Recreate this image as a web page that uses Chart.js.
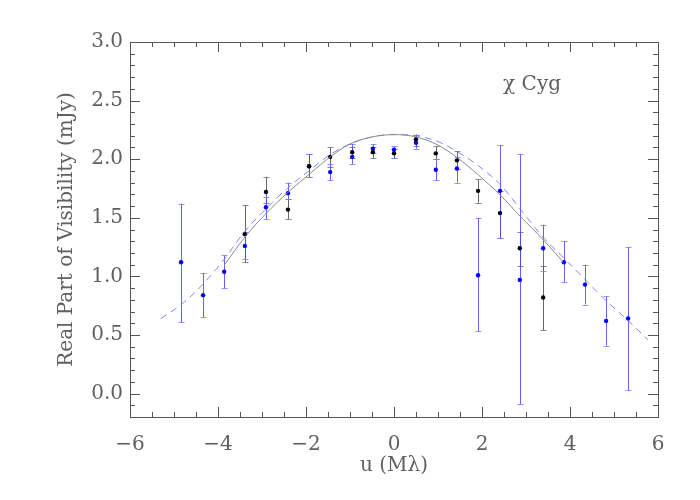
<!DOCTYPE html>
<html>
<head>
<meta charset="utf-8">
<script src="https://cdn.jsdelivr.net/npm/chart.js@4/dist/chart.umd.min.js"></script>
<style>
  html, body { margin: 0; padding: 0; background: #fff; }
  canvas { display: block; }
</style>
</head>
<body>
<canvas id="vis" width="700" height="500"></canvas>
<script>
// blue data set (with its error bars)
const uBlue  = [-4.84, -4.34, -3.86, -3.39, -2.91, -2.41, -1.93, -1.45, -0.95, -0.48, 0.00, 0.50, 0.95, 1.43, 1.91, 2.41, 2.86, 3.39, 3.86, 4.34, 4.82, 5.32];
const vBlue  = [1.12, 0.84, 1.04, 1.26, 1.59, 1.71, 1.94, 1.89, 2.02, 2.09, 2.08, 2.14, 1.91, 1.92, 1.01, 1.73, 0.97, 1.24, 1.12, 0.93, 0.62, 0.64];
const loBlue = [0.61, 0.65, 0.90, 1.15, 1.49, 1.66, 1.85, 1.82, 1.96, 2.05, 2.01, 2.09, 1.82, 1.80, 0.53, 1.33, -0.09, 1.05, 0.95, 0.76, 0.41, 0.03];
const hiBlue = [1.62, 1.03, 1.18, 1.38, 1.68, 1.80, 2.04, 1.96, 2.13, 2.13, 2.11, 2.21, 2.00, 2.02, 1.50, 2.12, 2.04, 1.44, 1.30, 1.10, 0.83, 1.25];

// black data set
const uBlack  = [-3.39, -2.91, -2.41, -1.93, -1.45, -0.95, -0.48, 0.00, 0.50, 0.95, 1.43, 1.91, 2.41, 2.86, 3.39];
const vBlack  = [1.36, 1.72, 1.57, 1.94, 2.02, 2.06, 2.06, 2.05, 2.17, 2.05, 1.99, 1.73, 1.54, 1.24, 0.82];
const loBlack = [1.12, 1.63, 1.49, 1.85, 1.93, 2.01, 2.01, 2.01, 2.11, 2.00, 1.92, 1.63, 1.33, 1.09, 0.54];
const hiBlack = [1.61, 1.85, 1.66, 2.04, 2.10, 2.10, 2.10, 2.09, 2.21, 2.11, 2.07, 1.83, 1.73, 1.38, 1.09];

// model curves
const uSolid = [-3.85, -3.40, -2.90, -2.40, -1.90, -1.45, -1.00, -0.50, 0.00, 0.50, 1.00, 1.45, 1.90, 2.40, 2.90, 3.40, 3.85];
const vSolid = [1.10, 1.33, 1.54, 1.72, 1.88, 2.02, 2.13, 2.19, 2.21, 2.19, 2.12, 2.01, 1.87, 1.70, 1.50, 1.31, 1.12];
const uDash  = [-5.30, -4.80, -4.35, -3.85, -3.40, -2.90, -2.40, -1.90, -1.45, -1.00, -0.50, 0.00, 0.50, 1.00, 1.50, 2.00, 2.40, 2.90, 3.35, 3.85, 4.35, 4.80, 5.30, 5.77];
const vDash  = [0.64, 0.77, 0.93, 1.15, 1.38, 1.58, 1.76, 1.91, 2.04, 2.13, 2.19, 2.21, 2.20, 2.15, 2.05, 1.92, 1.79, 1.56, 1.35, 1.16, 0.97, 0.80, 0.63, 0.46];

const xTicks = [-6, -4, -2, 0, 2, 4, 6];
const yTicks = [0.0, 0.5, 1.0, 1.5, 2.0, 2.5, 3.0];

const FONT = '"DejaVu Serif", "Liberation Serif", serif';
const INK = '#555';
const TXT = '#606060';

function pts(xs, ys) {
    return xs.map((x, i) => ({ x: x, y: ys[i] }));
}

// error bars drawn under the points
const errorBars = {
    id: 'errorBars',
    beforeDatasetsDraw(chart) {
        const ctx = chart.ctx;
        const xs = chart.scales.x, ys = chart.scales.y;
        const sets = [
            { u: uBlack, lo: loBlack, hi: hiBlack, col: '#666', cap: '#888' },
            { u: uBlue, lo: loBlue, hi: hiBlue, col: 'rgba(70,70,255,0.85)', cap: 'rgba(120,120,255,0.8)' }
        ];
        ctx.save();
        ctx.lineWidth = 1;
        sets.forEach(s => {
            s.u.forEach((u, i) => {
                const px = Math.round(xs.getPixelForValue(u)) + 0.5;
                const y1 = ys.getPixelForValue(s.lo[i]);
                const y2 = ys.getPixelForValue(s.hi[i]);
                ctx.strokeStyle = s.col;
                ctx.beginPath();
                ctx.moveTo(px, y1);
                ctx.lineTo(px, y2);
                ctx.stroke();
                ctx.strokeStyle = s.cap;
                ctx.beginPath();
                ctx.moveTo(px - 3, Math.round(y1) + 0.5);
                ctx.lineTo(px + 3, Math.round(y1) + 0.5);
                ctx.moveTo(px - 3, Math.round(y2) + 0.5);
                ctx.lineTo(px + 3, Math.round(y2) + 0.5);
                ctx.stroke();
            });
        });
        ctx.restore();
    }
};

// box, inward ticks on all four sides, and the star name
const frame = {
    id: 'frame',
    afterDraw(chart) {
        const ctx = chart.ctx;
        const a = chart.chartArea;
        const xs = chart.scales.x, ys = chart.scales.y;
        ctx.save();
        ctx.strokeStyle = INK;
        ctx.lineWidth = 1;
        ctx.strokeRect(Math.round(a.left) + 0.5, Math.round(a.top) + 0.5, Math.round(a.right - a.left), Math.round(a.bottom - a.top));
        ctx.beginPath();
        for (let k = -12; k <= 12; k++) {
            const px = Math.round(xs.getPixelForValue(k / 2)) + 0.5;
            const len = (k % 4 === 0) ? 10 : 5;
            ctx.moveTo(px, a.bottom);
            ctx.lineTo(px, a.bottom - len);
            ctx.moveTo(px, a.top);
            ctx.lineTo(px, a.top + len);
        }
        for (let k = -2; k <= 30; k++) {
            const py = Math.round(ys.getPixelForValue(k / 10)) + 0.5;
            const len = (k % 5 === 0) ? 10 : 5;
            ctx.moveTo(a.left, py);
            ctx.lineTo(a.left + len, py);
            ctx.moveTo(a.right, py);
            ctx.lineTo(a.right - len, py);
        }
        ctx.stroke();

        ctx.fillStyle = TXT;
        ctx.font = '20px ' + FONT;
        ctx.textBaseline = 'alphabetic';
        ctx.textAlign = 'left';
        ctx.fillText('\u03C7 Cyg', xs.getPixelForValue(2.48), ys.getPixelForValue(2.59));
        ctx.restore();
    }
};

const chart = new Chart(document.getElementById('vis'), {
    type: 'scatter',
    data: {
        datasets: [
            {
                type: 'line',
                data: pts(uSolid, vSolid),
                borderColor: '#8a8a8a',
                borderWidth: 1,
                pointRadius: 0,
                cubicInterpolationMode: 'monotone',
                fill: false
            },
            {
                type: 'line',
                data: pts(uDash, vDash),
                borderColor: 'rgba(120,120,255,0.9)',
                borderWidth: 1,
                borderDash: [7, 5],
                pointRadius: 0,
                cubicInterpolationMode: 'monotone',
                fill: false
            },
            {
                data: pts(uBlack, vBlack),
                backgroundColor: '#000',
                borderColor: '#000',
                pointRadius: 2.2,
                pointBorderWidth: 0
            },
            {
                data: pts(uBlue, vBlue),
                backgroundColor: '#0000ff',
                borderColor: '#0000ff',
                pointRadius: 2.2,
                pointBorderWidth: 0
            }
        ]
    },
    options: {
        responsive: false,
        animation: false,
        layout: { padding: { left: 0, right: 42, top: 42, bottom: 0 } },
        plugins: {
            legend: { display: false },
            tooltip: { enabled: false }
        },
        scales: {
            x: {
                type: 'linear',
                min: -6,
                max: 6,
                grid: { display: false },
                border: { display: false },
                afterBuildTicks: s => { s.ticks = xTicks.map(v => ({ value: v })); },
                afterFit: s => { s.height = 83; },
                ticks: {
                    color: TXT,
                    font: { family: FONT, size: 20 },
                    padding: 8,
                    maxRotation: 0,
                    callback: v => String(v).replace('-', '\u2212')
                },
                title: {
                    display: true,
                    text: 'u (M\u03BB)',
                    color: TXT,
                    font: { family: FONT, size: 20 },
                    padding: { top: 0, bottom: 22 }
                }
            },
            y: {
                type: 'linear',
                min: -0.2,
                max: 3.0,
                grid: { display: false, drawTicks: false },
                border: { display: false },
                afterBuildTicks: s => { s.ticks = yTicks.map(v => ({ value: v })); },
                afterFit: s => { s.width = 130; },
                ticks: {
                    color: TXT,
                    font: { family: FONT, size: 20 },
                    padding: 7,
                    callback: v => Number(v).toFixed(1)
                },
                title: {
                    display: true,
                    text: 'Real Part of Visibility (mJy)',
                    color: TXT,
                    font: { family: FONT, size: 20 },
                    padding: { top: 55, bottom: 0 }
                }
            }
        }
    },
    plugins: [errorBars, frame]
});
</script>
</body>
</html>
